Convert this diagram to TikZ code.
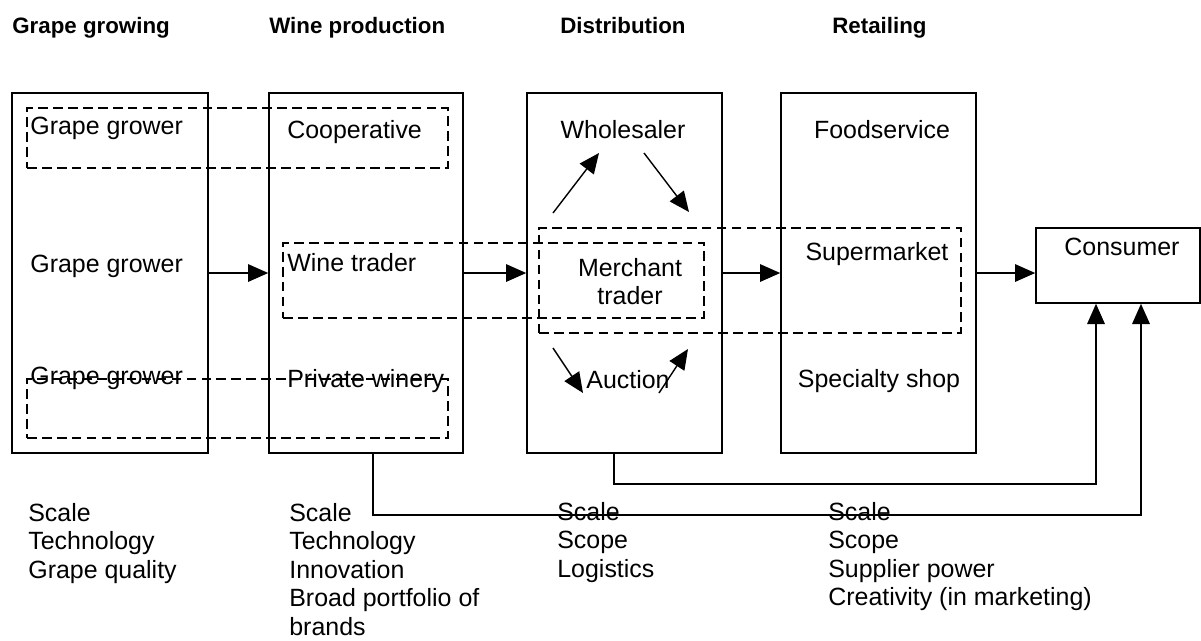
\documentclass[tikz,border=0pt]{standalone}
\usepackage{fontspec}
\setmainfont{Liberation Sans}
\usetikzlibrary{arrows.meta,fit}

\tikzset{
  stagebox/.style={draw, line width=0.9pt, inner sep=0pt},
  dashbox/.style={draw, dash pattern=on 5.5pt off 3pt, line width=0.8pt, inner sep=0pt},
  flow/.style={line width=0.8pt, -{Triangle[length=11.5pt,width=10pt]}},
  txt/.style={font=\fontsize{14.2}{16.2}\selectfont, inner sep=0pt},
  headtxt/.style={font=\bfseries\fontsize{12.7}{15}\selectfont, inner sep=0pt, anchor=base west},
}

\begin{document}
\begin{tikzpicture}[x=0.02cm, y=-0.02cm]
\useasboundingbox (0,0) rectangle (1201,640);

  \foreach \x/\t [count=\i] in {12/Grape growing, 269/Wine production, 560/Distribution, 832/Retailing}
    \node[headtxt] (head\i) at (\x,33) {\t};

  % the four stages and the end customer
  \node[stagebox, fit={(12,93) (208,453)}] (grow) {};
  \node[stagebox, fit={(269,93) (463,453)}] (wine) {};
  \node[stagebox, fit={(527,93) (722,453)}] (dist) {};
  \node[stagebox, fit={(781,93) (976,453)}] (retail) {};
  \node[stagebox, fit={(1036,228) (1200,303)}] (consumer) {};

  % integrated players
  \node[dashbox, fit={(27,108) (448,168)}] (coop) {};
  \node[dashbox, fit={(27,379) (448,438)}] (estate) {};
  \node[dashbox, fit={(283,243) (704,318)}] (trade) {};
  \node[dashbox, fit={(539,228) (961,333)}] (chain) {};

  \node[txt, anchor=base west] (grower1) at (30,134) {Grape grower};
  \node[txt, anchor=base west] (grower2) at (30,272) {Grape grower};
  \node[txt, anchor=base west] (grower3) at (30,384) {Grape grower};
  \node[txt, anchor=base west] (cooperative) at (287,138) {Cooperative};
  \node[txt, anchor=base west] (winetrader) at (287,271) {Wine trader};
  \node[txt, anchor=base west] (winery) at (287,387) {Private winery};
  \node[txt, anchor=base] (wholesaler) at (623,138) {Wholesaler};
  \node[txt, align=center, anchor=north] (merchant) at (630,258) {Merchant\\trader};
  \node[txt, anchor=base] (auction) at (628,388) {Auction};
  \node[txt, anchor=base] (foodservice) at (882,138) {Foodservice};
  \node[txt, anchor=base] (supermarket) at (877,260) {Supermarket};
  \node[txt, anchor=base] (specialty) at (879,387) {Specialty shop};
  \node[txt, anchor=base] (consumertxt) at (1122,255) {Consumer};

  % key success factors
  \node[txt, align=left, anchor=north west] (ksfgrow) at (28,503) {Scale\\Technology\\Grape quality};
  \node[txt, align=left, anchor=north west] (ksfwine) at (289,503) {Scale\\Technology\\Innovation\\Broad portfolio of\\brands};
  \node[txt, align=left, anchor=north west] (ksfdist) at (557,502) {Scale\\Scope\\Logistics};
  \node[txt, align=left, anchor=north west] (ksfretail) at (828,502) {Scale\\Scope\\Supplier power\\Creativity (in marketing)};

  % main chain
  \draw[flow] (grow) -- (wine);
  \draw[flow] (wine) -- (dist);
  \draw[flow] (dist) -- (retail);
  \draw[flow] (retail.east) -- (retail.east -| consumer.west);

  % routes inside distribution
  \coordinate (mw1) at (553,213);  \coordinate (mw2) at (599,153);
  \coordinate (wm1) at (644,153);  \coordinate (wm2) at (689,212);
  \coordinate (ma1) at (553,348);  \coordinate (ma2) at (583,393);
  \coordinate (am1) at (659,393);  \coordinate (am2) at (688,349);
  \draw[flow] (mw1) -- (mw2);
  \draw[flow] (wm1) -- (wm2);
  \draw[flow] (ma1) -- (ma2);
  \draw[flow] (am1) -- (am2);

  % direct sales
  \draw[flow] ([xshift=-0.21cm]dist.south) -- ++(0,30) -| ([xshift=-0.44cm]consumer.south);
  \draw[flow] ([xshift=0.14cm]wine.south) -- ++(0,61) -| ([xshift=0.46cm]consumer.south);

\end{tikzpicture}
\end{document}
